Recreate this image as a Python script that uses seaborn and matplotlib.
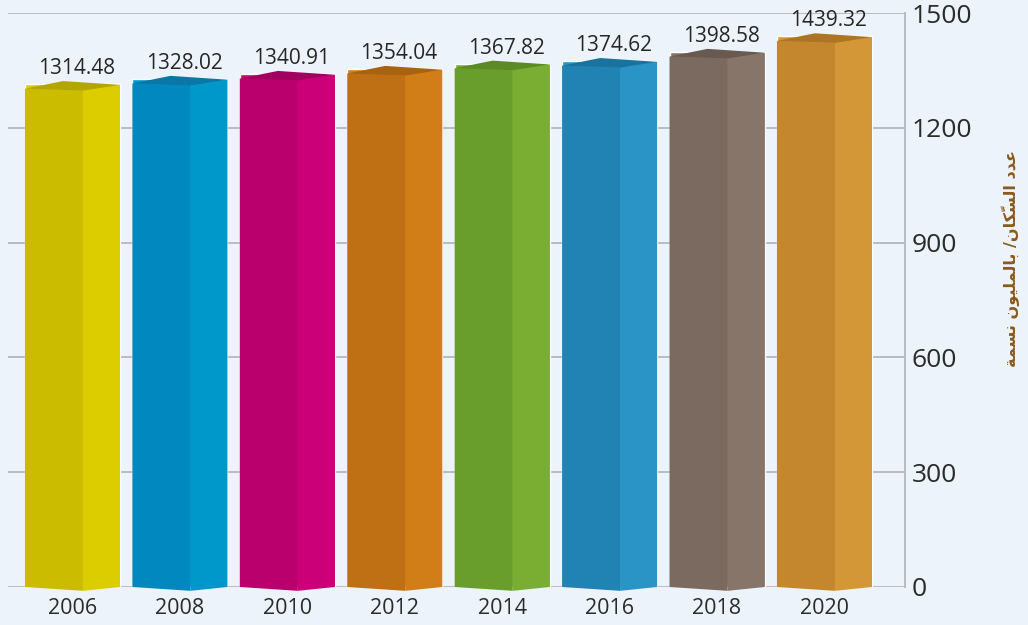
import numpy as np
import pandas as pd
import matplotlib.pyplot as plt
import seaborn as sns
from matplotlib.patches import Polygon


years = ["2006", "2008", "2010", "2012", "2014", "2016", "2018", "2020"]
population = [1314.48, 1328.02, 1340.91, 1354.04, 1367.82, 1374.62, 1398.58, 1439.32]

front_colors = ["#CBBC00", "#0088BF", "#BA006C", "#BF7014", "#6A9E2C", "#2183B3", "#7A6A60", "#C4872E"]
side_colors = ["#DCCD00", "#0098CB", "#CB0078", "#D17D18", "#79AE33", "#2A94C6", "#877569", "#D49737"]
top_colors = ["#B3A600", "#0A77A6", "#A20060", "#A86210", "#5C8A24", "#1A739E", "#695A51", "#AD7424"]

# Arabic label, written in presentation forms (matplotlib does no shaping)
ylabel = "\uFE94\uFEE4\uFEB4\uFEE7 \uFEE5\uFEEE\uFEF4\uFEE0\uFEE4\uFEDF\uFE8E\uFE91 /\uFEE5\uFE8E\uFEDC\u0651\uFEB4\uFEDF\uFE8D \uFEA9\uFEAA\uFECB"

df = pd.DataFrame({"year": years, "population": population})

bg = "#EDF3FA"
sns.set_theme(style="white")
plt.rcParams["font.family"] = ["Open Sans", "DejaVu Sans"]

fig = plt.figure(figsize=(10.28, 6.25), dpi=100, facecolor=bg)
ax = fig.add_axes([0.0078, 0.0608, 0.8726, 0.9182])
ax.set_facecolor(bg)

sns.barplot(data=df, x="year", y="population", hue="year", palette=side_colors,
            width=0.885, legend=False, saturation=1, ax=ax)

# fake 3d faces built on top of the seaborn bars
for i, p in enumerate(ax.patches):
    x0 = p.get_x()
    w = p.get_width()
    v = p.get_height()
    fc = x0 + w * 0.61
    bk = x0 + w * 0.40
    x1 = x0 + w
    front = Polygon([(x0, 0), (fc, -10), (fc, v - 17), (x0, v - 12)],
                    closed=True, facecolor=front_colors[i], edgecolor="none",
                    clip_on=False, zorder=3)
    side = Polygon([(fc, -10), (x1, 0), (x1, v - 2), (fc, v - 17)],
                   closed=True, facecolor=side_colors[i], edgecolor="none",
                   clip_on=False, zorder=3)
    top = Polygon([(x0, v - 12), (bk, v + 8), (x1, v - 2), (fc, v - 17)],
                  closed=True, facecolor=top_colors[i], edgecolor="none",
                  clip_on=False, zorder=3)
    ax.add_patch(front)
    ax.add_patch(side)
    ax.add_patch(top)
    ax.text(x0 + w / 2 + 0.04, v + 13, f"{population[i]:.2f}", ha="center", va="bottom",
            fontsize=15, color="#262626", zorder=4)

ax.set_xlim(-0.6, 7.75)
ax.set_ylim(0, 1500)
ax.set_yticks([0, 300, 600, 900, 1200, 1500])
ax.yaxis.tick_right()
ax.yaxis.set_label_position("right")
ax.grid(axis="y", color="#B4B8BD", linewidth=1.3, zorder=0)
ax.set_axisbelow(True)
for s in ["top", "left", "bottom"]:
    ax.spines[s].set_visible(False)
ax.spines["right"].set_color("#B4B8BD")
ax.spines["right"].set_linewidth(1.3)

ax.tick_params(axis="y", length=0, pad=5, labelsize=19, labelcolor="#2B2B2B")
ax.tick_params(axis="x", length=0, pad=8, labelsize=15.5, labelcolor="#2B2B2B")
ax.set_xlabel("")
ax.set_ylabel(ylabel, family=["DejaVu Sans"], fontsize=11.5, fontweight="bold",
              color="#8A5A1C", rotation=90)
ax.yaxis.set_label_coords(1.108, 0.573)

plt.savefig("out.png", dpi=100, facecolor=bg)
